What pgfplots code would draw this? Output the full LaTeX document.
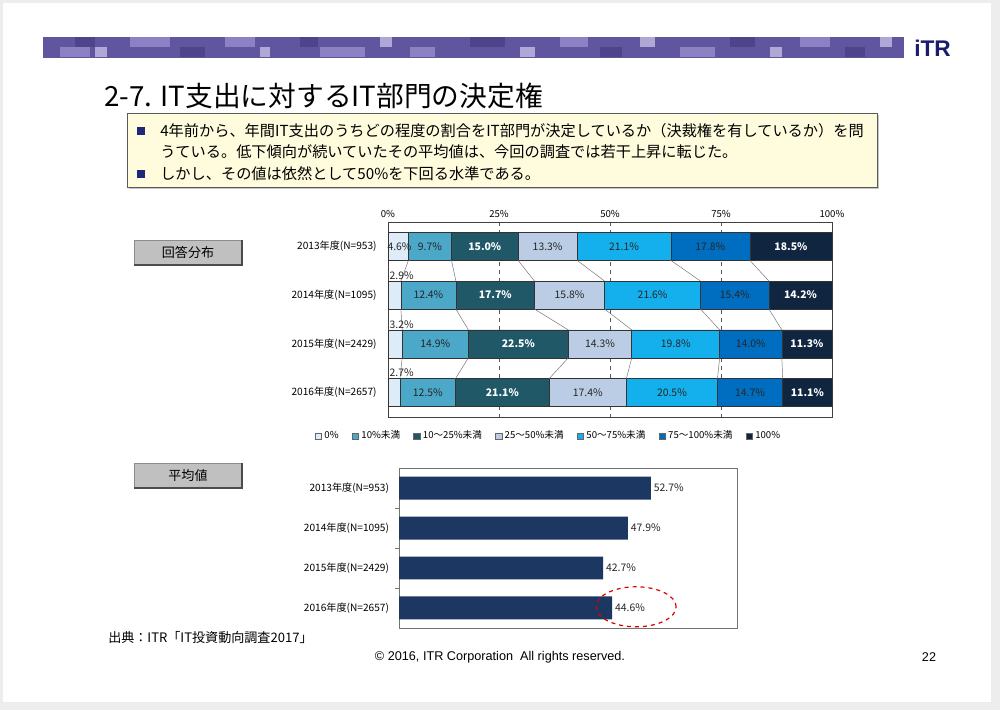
\documentclass[border=0pt]{standalone}
\usepackage{fontspec}
\setmainfont{Liberation Sans}
\newfontfamily\jp{Noto Sans CJK JP}
\usepackage{pgfplots}
\pgfplotsset{compat=1.18}
\definecolor{cA}{RGB}{221,236,248}
\definecolor{cB}{RGB}{75,168,200}
\definecolor{cC}{RGB}{32,88,104}
\definecolor{cD}{RGB}{186,205,229}
\definecolor{cE}{RGB}{20,176,238}
\definecolor{cF}{RGB}{0,110,192}
\definecolor{cG}{RGB}{16,37,64}
\definecolor{navybar}{RGB}{28,56,98}
\definecolor{band}{RGB}{96,86,160}
\definecolor{bandL}{RGB}{140,130,195}
\definecolor{bandLL}{RGB}{175,168,215}
\definecolor{bandD}{RGB}{78,68,140}
\definecolor{boxfill}{RGB}{255,252,222}
\definecolor{bullet}{RGB}{30,40,120}
\definecolor{graybox}{RGB}{192,192,192}
\begin{document}
\begin{tikzpicture}[x=0.75pt,y=0.75pt]
% slide background
\fill[gray!14] (0,0) rectangle (1000,710);
\fill[white] (3,710-702) rectangle (991,710-3);
% header band
\fill[band] (43,710-58) rectangle (904,710-37);
\foreach \a/\b/\w/\c in {60/47/30/bandL, 75/37/20/bandD, 95/47/12/bandLL, 130/37/40/bandL, 180/47/25/bandD, 225/37/30/bandL, 260/47/10/bandLL, 300/37/18/bandD, 320/47/45/bandL, 380/37/12/bandLL, 410/47/25/bandL, 470/37/35/bandD, 520/47/15/bandLL, 560/37/28/bandL, 600/47/22/bandD, 640/37/15/bandLL, 680/47/35/bandL, 730/37/25/bandD, 770/47/12/bandLL, 800/37/30/bandL, 845/47/20/bandD, 880/37/12/bandLL}
  {\fill[\c] (\a,710-\b) rectangle ++(\w,-10.5);}
\node[anchor=west, inner sep=0pt, text={rgb,255:red,28;green,28;blue,110}] at (914,710-48)
  {\bfseries\fontsize{17}{17}\selectfont iTR};
% title
\node[anchor=west, inner sep=0pt] at (104,710-96) {\jp\fontsize{20.8}{23}\selectfont 2-7. IT支出に対するIT部門の決定権};
% text box
\fill[gray!45] (129,710-189) rectangle (879,710-115);
\filldraw[fill=boxfill, draw=black!65, line width=0.6pt] (127,710-187) rectangle (877,710-113);
\fill[bullet] (137,710-135) rectangle (145,710-127);
\fill[bullet] (137,710-178) rectangle (145,710-170);
\node[anchor=west, inner sep=0pt] at (160,710-131) {\jp\fontsize{11.4}{13}\selectfont 4年前から、年間IT支出のうちどの程度の割合をIT部門が決定しているか（決裁権を有しているか）を問};
\node[anchor=west, inner sep=0pt] at (160,710-152) {\jp\fontsize{11.4}{13}\selectfont うている。低下傾向が続いていたその平均値は、今回の調査では若干上昇に転じた。};
\node[anchor=west, inner sep=0pt] at (160,710-174) {\jp\fontsize{11.4}{13}\selectfont しかし、その値は依然として50\%を下回る水準である。};
% gray labels
\filldraw[fill=graybox, draw=black!45] (134,710-265) rectangle (242,710-240);
\draw[black!70, line width=0.8pt] (134,710-265) -- (242,710-265) -- (242,710-240);
\node at (188,710-252.5) {\jp\fontsize{9.8}{11}\selectfont 回答分布};
\filldraw[fill=graybox, draw=black!45] (134,710-488) rectangle (242,710-463);
\draw[black!70, line width=0.8pt] (134,710-488) -- (242,710-488) -- (242,710-463);
\node at (188,710-475.5) {\jp\fontsize{9.8}{11}\selectfont 平均値};

% ---------- stacked distribution chart ----------
\begin{axis}[
  at={(291pt,219.75pt)}, anchor=south west,
  width=333pt, height=146.25pt, scale only axis,
  xbar stacked, bar width=0.574,
  xmin=0, xmax=100, ymin=-0.5, ymax=3.5, y dir=reverse,
  xtick={0,25,50,75,100}, xticklabels={0\%,25\%,50\%,75\%,100\%},
  xticklabel pos=top, xtick style={draw=none},
  xmajorgrids, major grid style={dashed, black!65, line width=0.6pt},
  ytick={0,1,2,3},
  yticklabels={2013年度(N=953),2014年度(N=1095),2015年度(N=2429),2016年度(N=2657)},
  ytick style={draw=none},
  yticklabel style={xshift=-5pt, font=\jp\fontsize{7.6}{8}\selectfont},
  axis line style={black!75, line width=0.6pt},
  xticklabel style={font=\jp\fontsize{7.2}{8}\selectfont},
  legend style={at={(axis description cs:-0.165,-0.097)}, anchor=west,
     draw=none, fill=none, font=\jp\fontsize{7.2}{8}\selectfont, inner sep=0pt,
     /tikz/every even column/.append style={column sep=8pt}},
  legend columns=-1,
  legend image code/.code={\draw[#1, draw=black!60, line width=0.3pt] (0pt,-2.4pt) rectangle (4.8pt,2.4pt);},
  every axis plot/.append style={draw=black!80, line width=0.4pt},
]
\addplot[fill=cA] coordinates {(4.6,0) (2.9,1) (3.2,2) (2.7,3)};
\addplot[fill=cB] coordinates {(9.7,0) (12.4,1) (14.9,2) (12.5,3)};
\addplot[fill=cC] coordinates {(15.0,0) (17.7,1) (22.5,2) (21.1,3)};
\addplot[fill=cD] coordinates {(13.3,0) (15.8,1) (14.3,2) (17.4,3)};
\addplot[fill=cE] coordinates {(21.1,0) (21.6,1) (19.8,2) (20.5,3)};
\addplot[fill=cF] coordinates {(17.8,0) (15.4,1) (14.0,2) (14.7,3)};
\addplot[fill=cG] coordinates {(18.5,0) (14.2,1) (11.3,2) (11.1,3)};
\legend{0\%,10\%未満,10～25\%未満,25～50\%未満,50～75\%未満,75～100\%未満,100\%}
\end{axis}

% overlay: series lines and data labels
\begin{axis}[
  at={(291pt,219.75pt)}, anchor=south west,
  width=333pt, height=146.25pt, scale only axis, hide axis,
  xmin=0, xmax=100, ymin=-0.5, ymax=3.5, y dir=reverse,
  unbounded coords=jump, clip=false,
  every axis plot/.append style={mark=none},
]
\addplot[black!55, line width=0.35pt] coordinates {(4.6,0.287) (2.9,0.713) (nan,nan) (2.9,1.287) (3.2,1.713) (nan,nan) (3.2,2.287) (2.7,2.713)};
\addplot[black!55, line width=0.35pt] coordinates {(14.3,0.287) (15.3,0.713) (nan,nan) (15.3,1.287) (18.1,1.713) (nan,nan) (18.1,2.287) (15.2,2.713)};
\addplot[black!55, line width=0.35pt] coordinates {(29.3,0.287) (33.0,0.713) (nan,nan) (33.0,1.287) (40.6,1.713) (nan,nan) (40.6,2.287) (36.3,2.713)};
\addplot[black!55, line width=0.35pt] coordinates {(42.6,0.287) (48.8,0.713) (nan,nan) (48.8,1.287) (54.9,1.713) (nan,nan) (54.9,2.287) (53.7,2.713)};
\addplot[black!55, line width=0.35pt] coordinates {(63.7,0.287) (70.4,0.713) (nan,nan) (70.4,1.287) (74.7,1.713) (nan,nan) (74.7,2.287) (74.2,2.713)};
\addplot[black!55, line width=0.35pt] coordinates {(81.5,0.287) (85.8,0.713) (nan,nan) (85.8,1.287) (88.7,1.713) (nan,nan) (88.7,2.287) (88.9,2.713)};
% dark labels
\addplot[only marks, mark=none, point meta=explicit symbolic, nodes near coords,
  nodes near coords style={anchor=center, inner sep=0pt, text=black!85, font=\jp\fontsize{7.8}{8}\selectfont}]
 coordinates {(2.6,0)[4.6\%]
  (9.45,0)[9.7\%] (9.1,1)[12.4\%] (10.65,2)[14.9\%] (8.95,3)[12.5\%]
  (35.95,0)[13.3\%] (40.9,1)[15.8\%] (47.75,2)[14.3\%] (45.0,3)[17.4\%]
  (53.15,0)[21.1\%] (59.6,1)[21.6\%] (64.8,2)[19.8\%] (63.95,3)[20.5\%]
  (72.6,0)[17.8\%] (78.1,1)[15.4\%] (81.7,2)[14.0\%] (81.55,3)[14.7\%]};
% white labels
\addplot[only marks, mark=none, point meta=explicit symbolic, nodes near coords,
  nodes near coords style={anchor=center, inner sep=0pt, text=white, font=\jp\bfseries\fontsize{7.8}{8}\selectfont}]
 coordinates {(21.8,0)[15.0\%] (24.15,1)[17.7\%] (29.35,2)[22.5\%] (25.75,3)[21.1\%]
  (90.75,0)[18.5\%] (92.9,1)[14.2\%] (94.35,2)[11.3\%] (94.45,3)[11.1\%]};
% small 0% values above bars
\addplot[only marks, mark=none, point meta=explicit symbolic, nodes near coords,
  nodes near coords style={anchor=south west, inner sep=1pt, text=black!85, font=\jp\fontsize{7.8}{8}\selectfont}]
 coordinates {(0,0.713)[2.9\%] (0,1.713)[3.2\%] (0,2.713)[2.7\%]};
\end{axis}

% ---------- average chart ----------
\begin{axis}[
  at={(299.25pt,61.5pt)}, anchor=south west,
  width=253.5pt, height=120pt, scale only axis,
  xbar, bar width=0.575,
  xmin=0, xmax=70.7, ymin=-0.5, ymax=3.5, y dir=reverse,
  xtick=\empty,
  ytick={0,1,2,3}, ytick pos=left,
  yticklabels={2013年度(N=953),2014年度(N=1095),2015年度(N=2429),2016年度(N=2657)},
  major tick length=0pt,
  minor ytick={0.5,1.5,2.5}, minor tick length=3pt, tick align=outside,
  minor tick style={black!55},
  yticklabel style={xshift=-4pt},
  axis line style={black!55, line width=0.6pt},
  tick label style={font=\jp\fontsize{7.6}{8}\selectfont},
  nodes near coords, point meta=explicit symbolic,
  nodes near coords style={anchor=west, inner sep=2pt, text=black!85, font=\jp\fontsize{7.8}{8}\selectfont},
  clip=false,
]
\addplot[fill=navybar, draw=none] coordinates {(52.7,0)[52.7\%] (47.9,1)[47.9\%] (42.7,2)[42.7\%] (44.6,3)[44.6\%]};
\draw[red!85!black, dashed, line width=0.9pt] (axis cs:49.6,2.97) ellipse [x radius=30pt, y radius=15pt];
\end{axis}

% footer
\node[anchor=west, inner sep=0pt] at (108,710-638) {\jp\fontsize{9.8}{11}\selectfont 出典：ITR「IT投資動向調査2017」};
\node[inner sep=0pt] at (500,710-657) {\fontsize{9.5}{11}\selectfont © 2016, ITR Corporation\ \ All rights reserved.};
\node[inner sep=0pt] at (929,710-657) {\fontsize{9.5}{11}\selectfont 22};
\end{tikzpicture}
\end{document}
